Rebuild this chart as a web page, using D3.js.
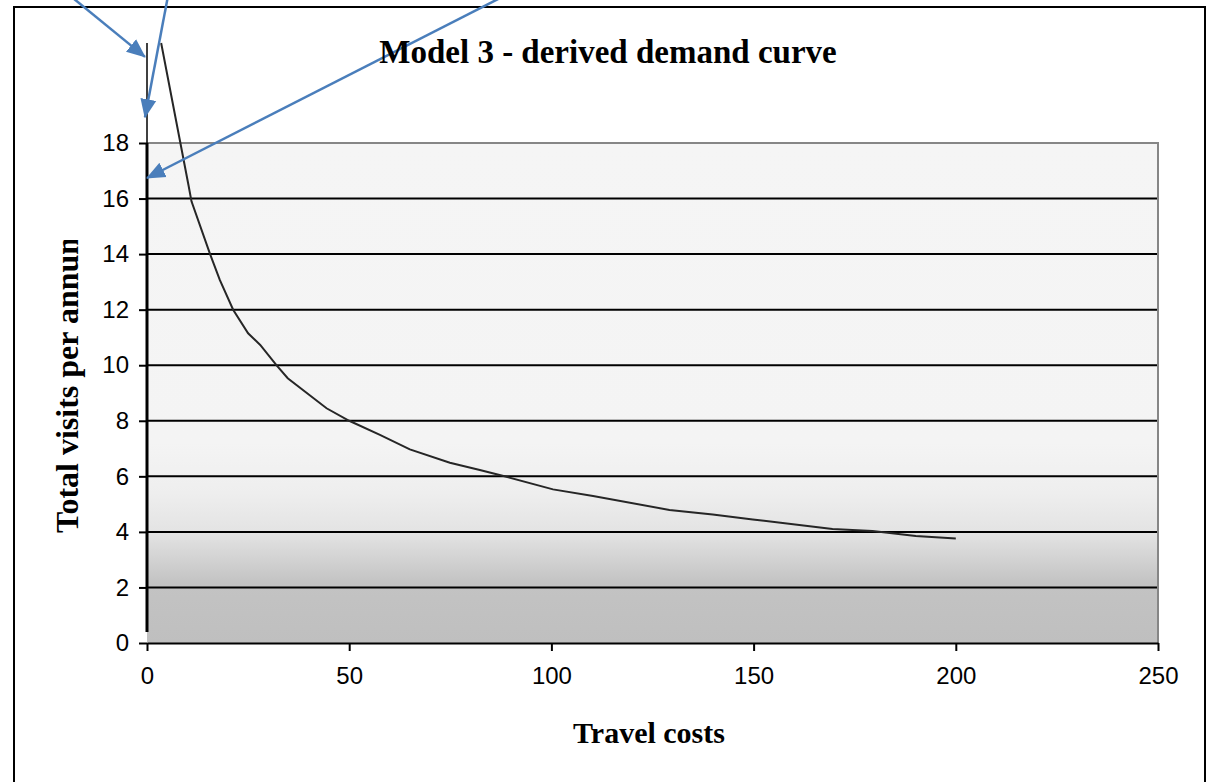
<!DOCTYPE html>
<html>
<head>
<meta charset="utf-8">
<script src="https://cdn.jsdelivr.net/npm/d3@7"></script>
<style>
  body { margin: 0; background: #fff; }
  svg { display: block; }
  .tick text { font-family: "Liberation Sans", Arial, sans-serif; font-size: 24px; fill: #000; }
</style>
</head>
<body>
<div id="chart"></div>
<script>
// demand curve: travel cost vs total visits per annum
var travelCost = [3.5, 10.3, 11, 15.6, 18, 21.3, 25, 28, 32, 34.8, 44.4, 50, 57.6, 65, 74.9, 82.3, 88.4, 100.4, 110.3, 129.2, 139.9, 149.8, 169.5, 179.4, 190.1, 200];
var visits = [21.6, 16.45, 15.9, 14, 13.07, 12, 11.15, 10.73, 10, 9.53, 8.45, 8, 7.49, 6.97, 6.49, 6.23, 6, 5.53, 5.29, 4.79, 4.63, 4.45, 4.1, 4.03, 3.85, 3.76];

// vertical line drawn at x = 0
var vertX = [0, 0];
var vertY = [0.4, 21.6];
var vertThickY = [0.4, 18];

// annotation arrows (data coordinates: start -> tip)
var arrowFromX = [-19, 5.2, 88.4];
var arrowFromY = [23.3, 23.3, 23.3];
var arrowToX = [-0.5, -0.5, 0];
var arrowToY = [21.1, 18.93, 16.74];

var xTicks = [0, 50, 100, 150, 200, 250];
var yTicks = [0, 2, 4, 6, 8, 10, 12, 14, 16, 18];

var title = 'Model 3 - derived demand curve';
var xTitle = 'Travel costs';
var yTitle = 'Total visits per annum';

var width = 1209;
var height = 782;
var margin = { top: 143, right: 51, bottom: 139, left: 147 };
var w = width - margin.left - margin.right;
var h = height - margin.top - margin.bottom;

var svg = d3.select('#chart').append('svg').attr('width', width).attr('height', height);
var defs = svg.append('defs');

// plot area gradient
var grad = defs.append('linearGradient').attr('id', 'bg').attr('x1', 0).attr('y1', 0).attr('x2', 0).attr('y2', 1);
[[0, '#f5f5f5'], [0.6, '#f4f4f4'], [0.7, '#eeeeee'], [0.78, '#e3e3e3'], [0.88, '#c3c3c3'], [1, '#bfbfbf']].forEach(function(s) {
  grad.append('stop').attr('offset', s[0]).attr('stop-color', s[1]);
});

defs.append('marker').attr('id', 'head')
  .attr('markerUnits', 'userSpaceOnUse')
  .attr('viewBox', '0 -9 19 18').attr('refX', 18).attr('refY', 0)
  .attr('markerWidth', 19).attr('markerHeight', 18).attr('orient', 'auto')
  .append('path').attr('d', 'M0,-8L19,0L0,8Z').attr('fill', '#4a7ebb');

// the axis title is cut off at the top in the original
defs.append('clipPath').attr('id', 'ylab').append('rect').attr('x', 0).attr('y', 240).attr('width', 140).attr('height', 400);

// outer frame
svg.append('rect').attr('x', 14).attr('y', 7).attr('width', 1191).attr('height', 800)
  .attr('fill', 'none').attr('stroke', '#000').attr('stroke-width', 2);

var g = svg.append('g').attr('transform', 'translate(' + margin.left + ',' + margin.top + ')');

var xScale = d3.scaleLinear().domain([0, 250]).range([0, w]);
var yScale = d3.scaleLinear().domain([0, 18]).range([h, 0]);

g.append('rect').attr('width', w).attr('height', h).attr('fill', 'url(#bg)');

// grid lines
g.append('g').selectAll('line').data(yTicks.filter(function(d) { return d > 0 && d < 18; }))
  .enter().append('line')
  .attr('x1', 0).attr('x2', w)
  .attr('y1', function(d) { return yScale(d); }).attr('y2', function(d) { return yScale(d); })
  .attr('stroke', '#000').attr('stroke-width', 2);

// top and right border of plot area
g.append('path').attr('d', 'M0,' + yScale(18) + 'H' + xScale(250) + 'V' + h)
  .attr('fill', 'none').attr('stroke', '#868686').attr('stroke-width', 2);

// axes
var yAxis = g.append('g').call(d3.axisLeft(yScale).tickValues(yTicks).tickSize(8).tickPadding(10).tickSizeOuter(0));
yAxis.select('.domain').remove();
yAxis.selectAll('line').attr('stroke', '#000').attr('stroke-width', 2);

var xAxis = g.append('g').attr('transform', 'translate(0,' + h + ')')
  .call(d3.axisBottom(xScale).tickValues(xTicks).tickSize(8).tickPadding(16).tickSizeOuter(0));
xAxis.select('.domain').attr('stroke', '#000').attr('stroke-width', 2);
xAxis.selectAll('line').attr('stroke', '#000').attr('stroke-width', 2);

// series
var line = d3.line().x(function(d) { return xScale(d[0]); }).y(function(d) { return yScale(d[1]); });

g.append('path').datum(d3.zip(vertX, vertY)).attr('d', line)
  .attr('fill', 'none').attr('stroke', '#000').attr('stroke-width', 1.5);
g.append('path').datum(d3.zip(vertX, vertThickY)).attr('d', line)
  .attr('fill', 'none').attr('stroke', '#000').attr('stroke-width', 3);

g.append('path').datum(d3.zip(travelCost, visits)).attr('d', line)
  .attr('fill', 'none').attr('stroke', '#262626').attr('stroke-width', 2);

// titles
svg.append('text').attr('x', 608).attr('y', 63).attr('text-anchor', 'middle')
  .style('font-family', '"Liberation Serif", "Times New Roman", serif').style('font-weight', 'bold').style('font-size', '33px')
  .text(title);

svg.append('text').attr('x', 649).attr('y', 743).attr('text-anchor', 'middle')
  .style('font-family', '"Liberation Serif", "Times New Roman", serif').style('font-weight', 'bold').style('font-size', '30px')
  .text(xTitle);

svg.append('g').attr('clip-path', 'url(#ylab)')
  .append('text').attr('transform', 'translate(78,533) rotate(-90)')
  .style('font-family', '"Liberation Serif", "Times New Roman", serif').style('font-weight', 'bold').style('font-size', '32px')
  .text(yTitle);

// annotation arrows
g.append('g').selectAll('line').data(d3.range(arrowFromX.length)).enter().append('line')
  .attr('x1', function(i) { return xScale(arrowFromX[i]); })
  .attr('y1', function(i) { return yScale(arrowFromY[i]); })
  .attr('x2', function(i) { return xScale(arrowToX[i]); })
  .attr('y2', function(i) { return yScale(arrowToY[i]); })
  .attr('stroke', '#4a7ebb').attr('stroke-width', 2.5)
  .attr('marker-end', 'url(#head)');
</script>
</body>
</html>
